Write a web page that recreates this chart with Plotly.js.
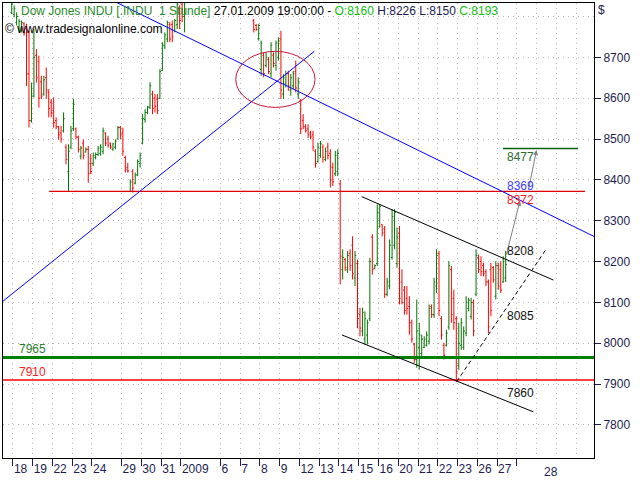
<!DOCTYPE html>
<html><head><meta charset="utf-8">
<script src="https://cdn.plot.ly/plotly-3.0.1.min.js"></script>
<style>html,body{margin:0;padding:0;background:#fff}#chart{width:640px;height:480px}</style>
</head><body><div id="chart"></div>
<script>
// ---- hourly OHLC bars ----
const openP = [
8810,8805,8785,8770,8765,8782,8770,8660,8545,8605,8705,8690,8640,8610,8650,8615,8590,8570,8545,8530,
8515,8520,8480,8420,8480,8525,8525,8505,8458,8490,8468,8475,8440,8440,8455,8462,8465,8470,8515,8500,
8490,8475,8480,8500,8528,8515,8455,8430,8372,8420,8392,8412,8440,8490,8548,8565,8578,8610,8600,8598,
8600,8668,8728,8745,8780,8780,8765,8780,8820,8830,8800,
8850,8895,8950,8975,8990,9020,9040,9030,9000,8970,8945,8920,8950,8980,8965,8940,8960,9000,9040,9070,
9050,9015,8975,8940,8910,8885,8870,
8790,8778,8745,8670,8705,8680,8695,8660,8705,8680,8700,8745,8610,8635,8660,8620,8630,8665,8610,8595,
8545,8530,8525,8515,8510,8470,8445,8460,8480,8450,8480,8465,8430,8415,8420,8390,
8180,8205,8180,8220,8240,8160,8195,8070,8030,8010,8020,8060,8260,8183,8195,8285,8290,8280,8120,8140,
8210,8240,8195,8270,8150,8130,8110,8090,8050,7998,7960,7990,7975,7990,7995,8005,8090,8070,8140,8220,
8060,7995,7995,8040,
8180,8110,8060,7945,7995,7990,8025,8085,8065,8100,8120,8210,8200,8190,8175,8150,8180,8185,8115,8190,
8180,8150,8160];
const highP = [
8835,8827,8810,8794,8790,8786,8782,8765,8638,8769,8720,8704,8655,8655,8675,8622,8598,8602,8553,8532,
8532,8565,8487,8487,8532,8598,8528,8508,8483,8499,8479,8483,8463,8467,8467,8483,8487,8528,8516,8508,
8491,8491,8499,8532,8532,8528,8459,8442,8401,8426,8418,8450,8467,8561,8573,8581,8639,8618,8610,8610,
8671,8737,8761,8790,8786,8790,8794,8839,8827,8839,8860,
8905,8960,8990,9010,9030,9060,9065,9045,9020,8995,8970,8960,8990,9000,8985,8975,9010,9050,9080,9088,
9060,9030,8990,8960,8930,8900,8885,
8794,8782,8782,8741,8712,8712,8700,8737,8712,8741,8749,8765,8659,8667,8667,8659,8667,8692,8651,8598,
8561,8536,8536,8520,8520,8475,8491,8495,8487,8479,8491,8475,8442,8471,8475,8400,
8230,8209,8226,8230,8262,8226,8205,8087,8087,8078,8058,8209,8267,8193,8340,8340,8291,8287,8160,8254,
8328,8328,8283,8287,8181,8140,8140,8115,8058,8001,8107,8050,8021,8017,8029,8095,8095,8160,8230,8226,
8066,8001,8033,8201,
8189,8131,8066,8050,8062,8041,8115,8111,8111,8107,8230,8217,8213,8197,8181,8156,8197,8189,8201,8197,
8201,8213,8226];
const lowP = [
8806,8798,8778,8761,8761,8753,8630,8528,8540,8602,8638,8577,8598,8606,8598,8553,8553,8528,8524,8499,
8491,8516,8438,8373,8475,8520,8499,8467,8450,8450,8467,8393,8414,8434,8450,8459,8459,8463,8483,8479,
8475,8471,8475,8499,8499,8459,8418,8418,8370,8369,8389,8409,8430,8487,8540,8561,8573,8561,8565,8561,
8598,8667,8720,8737,8737,8737,8761,8769,8769,8786,8761,
8845,8880,8930,8950,8970,9000,9010,8990,8960,8930,8905,8900,8935,8950,8930,8920,8950,8985,9020,9040,
9000,8960,8920,8890,8870,8855,8848,
8761,8765,8741,8655,8651,8675,8659,8651,8675,8667,8692,8598,8598,8626,8618,8606,8622,8614,8598,8512,
8524,8516,8503,8499,8471,8430,8442,8454,8442,8446,8450,8381,8385,8409,8409,8144,
8156,8177,8172,8177,8156,8140,8037,8017,8017,7997,7997,8054,8168,8181,8189,8283,8262,8111,8115,8132,
8205,8230,8185,8095,8095,8070,8070,8021,8001,7952,7940,7935,7968,7988,7992,7997,8062,8062,8123,8066,
8009,7960,7992,8033,
8050,8033,7905,7935,7984,7984,8017,8078,8058,8017,8115,8172,8164,8164,8140,8025,8066,8148,8107,8131,
8123,8148,8150];
const closeP = [
8830,8820,8800,8788,8785,8760,8659,8545,8605,8700,8650,8600,8605,8645,8620,8575,8565,8540,8530,8510,
8500,8550,8450,8470,8520,8585,8505,8475,8478,8460,8475,8415,8420,8460,8462,8478,8480,8520,8490,8485,
8480,8488,8495,8528,8510,8470,8425,8422,8395,8380,8412,8445,8460,8550,8565,8578,8630,8575,8580,8570,
8665,8730,8755,8785,8745,8750,8790,8830,8790,8800,8850,
8895,8950,8975,8990,9020,9040,9030,9000,8970,8945,8920,8950,8980,8965,8940,8960,9000,9040,9070,9050,
9015,8975,8940,8910,8885,8870,8855,
8768,8768,8778,8735,8660,8700,8665,8730,8685,8735,8740,8620,8650,8660,8630,8650,8660,8625,8640,8525,
8530,8520,8510,8505,8480,8440,8480,8488,8455,8470,8460,8400,8395,8460,8465,8213,
8210,8185,8215,8190,8170,8215,8060,8037,8075,8060,8050,8200,8180,8190,8320,8335,8270,8120,8150,8240,
8310,8320,8260,8110,8100,8080,8085,8050,8010,7960,8030,8020,8010,8010,8020,8085,8070,8150,8215,8080,
8020,7970,8025,8190,
8070,8050,7930,8000,8050,8030,8100,8105,8100,8030,8215,8180,8175,8170,8150,8040,8080,8155,8190,8140,
8130,8200,8193];

// ---- trading days on the time axis ----
const dayLabels  = [null,'18','19','22','23','24',null,'29','30','31','2009',null,'6','7','8','9','12','13','14','15','16','20','21','22','23','26','27'];
const barsPerDay = [1,8,8,8,8,4,8,8,8,8,8,8,8,8,8,8,8,8,8,8,8,8,8,8,8,8,4];
const nextDayLabel = '28';

// ---- drawn analysis levels / lines (price units, bar units) ----
const levelSupport = 7965;
const levelLow = 7910;
const levelMid = 8372;
const levelTarget = 8477;
const trendDownX = [41.82, 235.75], trendDownY = [8836.2, 8261.5];
const trendUpX = [-3.52, 122.51], trendUpY = [8103.0, 8714.7];
const chanTopX = [141.7, 219.3], chanTopY = [8358.9, 8154.7];
const chanBotX = [133.7, 211.2], chanBotY = [8020.3, 7832.0];
const dashX = [180.2, 216.3], dashY = [7906.4, 8229.6];
const ellipseX = [90.7, 122.8], ellipseY = [8577.3, 8714.7];
const arrow1X = [200.1, 205.8], arrow1Y = [8213.1, 8348.6];
const arrow2X = [209.1, 212.5], arrow2Y = [8372.6, 8473.0];
const valueLabels = ['8477','8369','8372','8208','8085','7860'];
const valueLabelY = [8456, 8385, 8350, 8226, 8066, 7877];
const valueLabelColors = ['#2d6b2d','#3a3aff','#ff1a1a','#111111','#111111','#111111'];

const idx = openP.map((_, i) => i);
const SLOT = 8;

// tick positions from day structure
const tickVals = [], tickText = [];
let start = 0, lastStart = 0;
dayLabels.forEach((lab, i) => {
  if (lab !== null) { tickVals.push(start - 0.5); tickText.push(lab); }
  lastStart = start;
  start += barsPerDay[i];
});
const futureTick = lastStart - 0.5 + SLOT;
tickVals.push(futureTick); tickText.push('');
const futureGrid = [futureTick + SLOT, futureTick + 2 * SLOT, futureTick + 3 * SLOT];

const xRange = [-3.52, 235.75];
const yRange = [7719, 8833];
const NAVY = '#1c1c50';
const FONT = 'Liberation Sans, Arial, sans-serif';
const GRID = '#b8b8b8';

const traces = [{
  type: 'ohlc', x: idx, open: openP, high: highP, low: lowP, close: closeP,
  increasing: {line: {color: '#007400', width: 1}},
  decreasing: {line: {color: '#ff0000', width: 1}},
  tickwidth: 0.5, hoverinfo: 'none', showlegend: false
}];

const shapes = [
  {type: 'line', xref: 'paper', yref: 'y', x0: 0, x1: 1, y0: levelSupport, y1: levelSupport, line: {color: '#008000', width: 3}},
  {type: 'line', xref: 'paper', yref: 'y', x0: 0, x1: 1, y0: levelLow, y1: levelLow, line: {color: '#ff0000', width: 1.5}},
  {type: 'line', xref: 'x', yref: 'y', x0: 15.2, x1: 232.1, y0: levelMid, y1: levelMid, line: {color: '#e00000', width: 1.2}},
  {type: 'line', xref: 'x', yref: 'y', x0: 198.9, x1: 229.3, y0: levelTarget, y1: levelTarget, line: {color: '#006400', width: 1.5}},
  {type: 'line', xref: 'x', yref: 'y', x0: trendDownX[0], x1: trendDownX[1], y0: trendDownY[0], y1: trendDownY[1], line: {color: '#0000ff', width: 1}},
  {type: 'line', xref: 'x', yref: 'y', x0: trendUpX[0], x1: trendUpX[1], y0: trendUpY[0], y1: trendUpY[1], line: {color: '#0000ff', width: 1}},
  {type: 'line', xref: 'x', yref: 'y', x0: chanTopX[0], x1: chanTopX[1], y0: chanTopY[0], y1: chanTopY[1], line: {color: '#000000', width: 1}},
  {type: 'line', xref: 'x', yref: 'y', x0: chanBotX[0], x1: chanBotX[1], y0: chanBotY[0], y1: chanBotY[1], line: {color: '#000000', width: 1}},
  {type: 'line', xref: 'x', yref: 'y', x0: dashX[0], x1: dashX[1], y0: dashY[0], y1: dashY[1], line: {color: '#000000', width: 1, dash: '4px,3px'}},
  {type: 'circle', xref: 'x', yref: 'y', x0: ellipseX[0], x1: ellipseX[1], y0: ellipseY[0], y1: ellipseY[1], line: {color: '#d0143c', width: 1}}
];

const annotations = [
  {xref: 'paper', yref: 'paper', x: 0.027, y: 0.9824, xanchor: 'left', yanchor: 'middle', showarrow: false,
   font: {family: FONT, size: 12, color: '#000'},
   text: '<span style="color:#2a8a2a">Dow Jones INDU [.INDU&nbsp; 1 Stunde]</span> 27.01.2009 19:00:00 - <span style="color:#10c010">O:8160</span> <span style="color:' + NAVY + '">H:8226 L:8150</span> <span style="color:#10c010">C:8193</span>'},
  {xref: 'paper', yref: 'paper', x: 0.0, y: 0.943, xanchor: 'left', yanchor: 'middle', showarrow: false,
   font: {family: FONT, size: 12, color: '#000'}, text: '© www.tradesignalonline.com'},
  {xref: 'paper', yref: 'paper', x: 1.0135, y: 0.9846, xanchor: 'center', yanchor: 'middle', showarrow: false,
   font: {family: FONT, size: 12, color: NAVY}, text: '$'},
  {xref: 'paper', yref: 'paper', x: 0.928, y: -0.031, xanchor: 'center', yanchor: 'middle', showarrow: false,
   font: {family: FONT, size: 12, color: NAVY}, text: nextDayLabel},
  {xref: 'x', yref: 'y', x: 2.2, y: 7986, xanchor: 'left', yanchor: 'middle', showarrow: false,
   font: {family: FONT, size: 12, color: '#2e7d2e'}, text: String(levelSupport)},
  {xref: 'x', yref: 'y', x: 2.2, y: 7929, xanchor: 'left', yanchor: 'middle', showarrow: false,
   font: {family: FONT, size: 12, color: '#ff2020'}, text: String(levelLow)},
  {xref: 'x', yref: 'y', x: arrow1X[1], y: arrow1Y[1], ax: arrow1X[0], ay: arrow1Y[0], axref: 'x', ayref: 'y',
   showarrow: true, arrowhead: 2, arrowsize: 1, arrowwidth: 1, arrowcolor: '#808080', text: '', standoff: 0, startstandoff: 0},
  {xref: 'x', yref: 'y', x: arrow2X[1], y: arrow2Y[1], ax: arrow2X[0], ay: arrow2Y[0], axref: 'x', ayref: 'y',
   showarrow: true, arrowhead: 2, arrowsize: 1, arrowwidth: 1, arrowcolor: '#808080', text: '', standoff: 0, startstandoff: 0}
];
valueLabels.forEach((t, i) => annotations.push({
  xref: 'x', yref: 'y', x: 199.6, y: valueLabelY[i], xanchor: 'left', yanchor: 'middle', showarrow: false,
  font: {family: FONT, size: 12, color: valueLabelColors[i]}, text: t
}));

const layout = {
  width: 640, height: 480,
  margin: {l: 3, r: 46, t: 3, b: 22, pad: 0},
  paper_bgcolor: '#ffffff', plot_bgcolor: '#ffffff',
  showlegend: false, dragmode: false,
  font: {family: FONT, size: 12, color: NAVY},
  xaxis: {
    range: xRange, tickmode: 'array', tickvals: tickVals, ticktext: tickText,
    ticks: 'outside', ticklen: 7, tickwidth: 1, tickcolor: NAVY,
    ticklabelposition: 'outside right', tickangle: 0,
    tickfont: {family: FONT, size: 12, color: NAVY},
    showgrid: true, gridcolor: GRID, griddash: '1px,4px', gridwidth: 1,
    minor: {tickmode: 'array', tickvals: futureGrid, ticks: '', showgrid: true, gridcolor: GRID, griddash: '1px,4px', gridwidth: 1},
    showline: true, mirror: true, linecolor: '#000', linewidth: 1,
    zeroline: false, rangeslider: {visible: false}, fixedrange: true
  },
  yaxis: {
    side: 'right', range: yRange, tickmode: 'array',
    tickvals: [7800, 7900, 8000, 8100, 8200, 8300, 8400, 8500, 8600, 8700],
    ticks: 'outside', ticklen: 6, tickwidth: 1, tickcolor: NAVY,
    tickfont: {family: FONT, size: 12, color: NAVY},
    showgrid: true, gridcolor: GRID, griddash: '1px,4px', gridwidth: 1,
    minor: {tickmode: 'array', tickvals: [8800], ticks: '', showgrid: true, gridcolor: GRID, griddash: '1px,4px', gridwidth: 1},
    showline: true, mirror: true, linecolor: '#000', linewidth: 1,
    zeroline: false, fixedrange: true
  },
  shapes: shapes,
  annotations: annotations
};

Plotly.newPlot('chart', traces, layout, {staticPlot: true, displayModeBar: false});
</script>
</body></html>
